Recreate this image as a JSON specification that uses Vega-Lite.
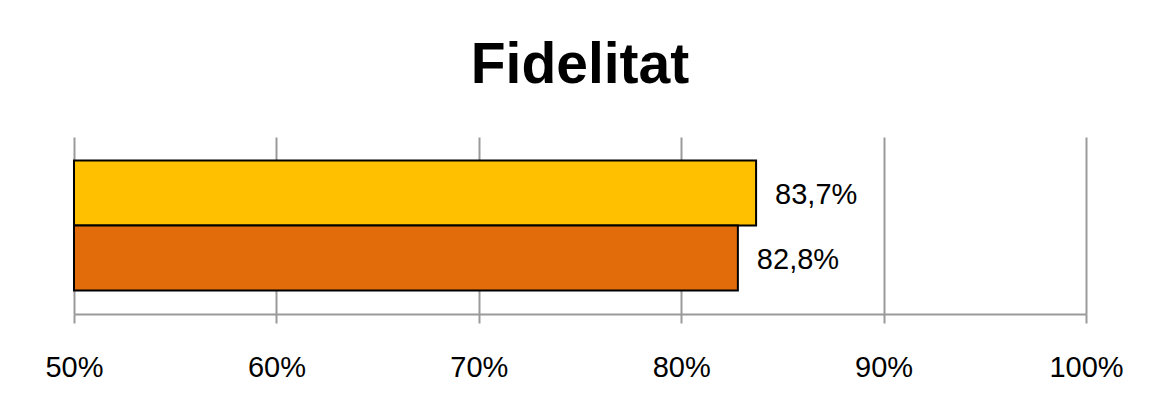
{
  "$schema": "https://vega.github.io/schema/vega-lite/v6.json",
  "autosize": "none",
  "width": 1012,
  "height": 177,
  "padding": {"left": 74, "top": 137, "right": 68, "bottom": 99},
  "background": "white",
  "config": {
    "view": {"stroke": null},
    "font": "Liberation Sans",
    "locale": {"number": {"decimal": ",", "thousands": ".", "grouping": [3], "currency": ["", " €"]}}
  },
  "title": {
    "text": "Fidelitat",
    "font": "Liberation Sans",
    "fontSize": 57,
    "fontWeight": "bold",
    "color": "black",
    "anchor": "middle",
    "baseline": "alphabetic",
    "offset": -3
  },
  "data": {
    "values": [
      {"serie": "Sèrie 1", "valor": 0.837},
      {"serie": "Sèrie 2", "valor": 0.828}
    ]
  },
  "encoding": {
    "y": {
      "field": "serie",
      "type": "nominal",
      "sort": ["Sèrie 1", "Sèrie 2"],
      "scale": {"paddingInner": 0, "paddingOuter": 0.36},
      "axis": null
    }
  },
  "layer": [
    {
      "mark": {"type": "bar", "stroke": "black", "strokeWidth": 2},
      "encoding": {
        "x": {
          "field": "valor",
          "type": "quantitative",
          "scale": {"domain": [0.5, 1], "zero": false, "nice": false},
          "axis": {
            "title": null,
            "format": ".0%",
            "values": [0.5, 0.6, 0.7, 0.8, 0.9, 1.0],
            "grid": true,
            "gridColor": "#9a9a9a",
            "gridWidth": 2,
            "domainColor": "#9a9a9a",
            "domainWidth": 2,
            "tickColor": "#9a9a9a",
            "tickWidth": 2,
            "tickSize": 9,
            "labelFont": "Liberation Sans",
            "labelFontSize": 29,
            "labelColor": "black",
            "labelPadding": 30,
            "labelFlush": false
          }
        },
        "x2": {"datum": 0.5},
        "color": {
          "field": "serie",
          "type": "nominal",
          "scale": {"domain": ["Sèrie 1", "Sèrie 2"], "range": ["#FFC000", "#E36C0A"]},
          "legend": null
        }
      }
    },
    {
      "mark": {"type": "text", "align": "left", "baseline": "middle", "dx": 19, "dy": 2, "fontSize": 29, "font": "Liberation Sans", "color": "black"},
      "encoding": {
        "x": {"field": "valor", "type": "quantitative"},
        "text": {"field": "valor", "type": "quantitative", "format": ".1%"}
      }
    }
  ]
}
